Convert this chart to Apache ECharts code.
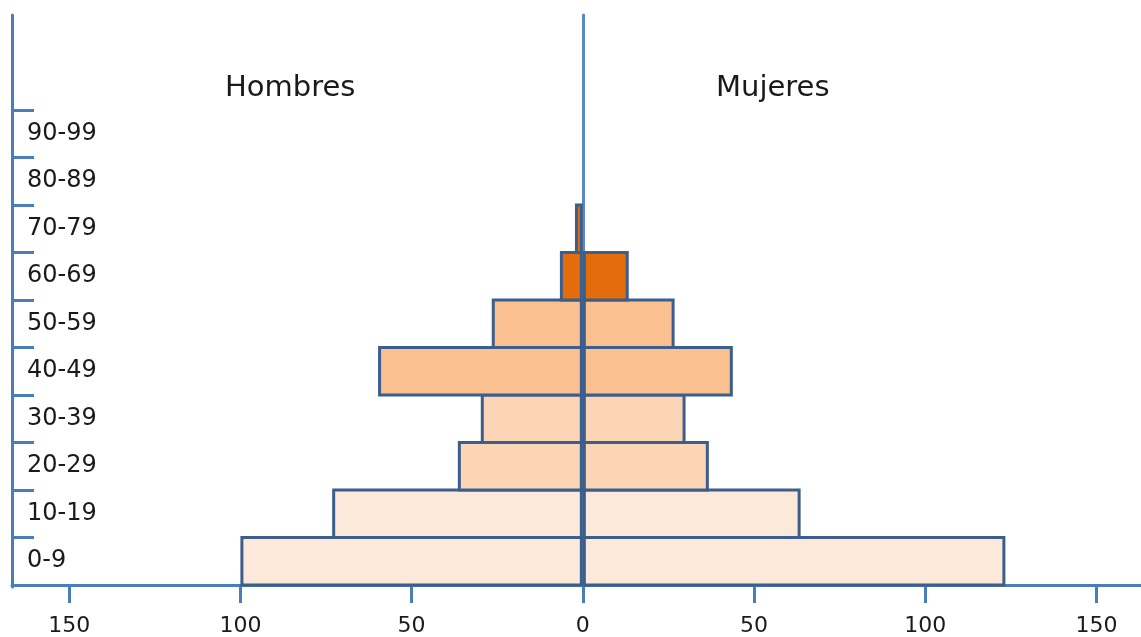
<!DOCTYPE html>
<html>
<head>
<meta charset="utf-8">
<script src="https://cdn.jsdelivr.net/npm/echarts@6/dist/echarts.min.js"></script>
<style>
  html, body { margin: 0; padding: 0; background: #fff; }
  #chart { width: 1141px; height: 637px; }
</style>
</head>
<body>
<div id="chart"></div>
<script>
// grupos de edad, de abajo arriba
var categorias = ['0-9', '10-19', '20-29', '30-39', '40-49', '50-59', '60-69', '70-79', '80-89', '90-99'];
var hombres = [100, 73.2, 36.5, 29.8, 59.8, 26.6, 6.7, 2.3, 0, 0];
var mujeres = [123.4, 63.6, 36.8, 30, 43.8, 26.8, 13.4, 0, 0, 0];
var ticksX = [-150, -100, -50, 0, 50, 100, 150];

var rellenos = ['#FDE9D9', '#FDE9D9', '#FBD5B5', '#FBD5B5', '#FAC090', '#FAC090', '#E46C0A', '#E46C0A', '#FFFFFF', '#FFFFFF'];
var ejeColor = '#4A7EBB';
var bordeColor = '#3B5E8C';
var fuente = 'DejaVu Sans';

var chart = echarts.init(document.getElementById('chart'));

var estiloBarra = {
    color: function (p) { return rellenos[p.dataIndex]; },
    borderColor: bordeColor,
    borderWidth: 3
};

chart.setOption({
    animation: false,
    backgroundColor: '#fff',
    title: [
        { text: 'Hombres', left: 220, top: 69, textStyle: { fontFamily: fuente, fontSize: 29, fontWeight: 'normal', color: '#1a1a1a' } },
        { text: 'Mujeres', left: 711, top: 69, textStyle: { fontFamily: fuente, fontSize: 29, fontWeight: 'normal', color: '#1a1a1a' } }
    ],
    grid: [
        { left: 12, right: 0, top: 110, bottom: 50 },
        { left: 12, right: 0, top: 15, bottom: 50 }
    ],
    xAxis: [
        {
            type: 'value', gridIndex: 0, min: -166.7, max: 163,
            splitLine: { show: false },
            axisLine: { show: true, lineStyle: { color: ejeColor, width: 3 } },
            axisTick: { show: true, length: 18, lineStyle: { color: ejeColor, width: 3 }, customValues: ticksX },
            axisLabel: {
                customValues: ticksX, margin: 30,
                fontFamily: fuente, fontSize: 22, color: '#1a1a1a',
                formatter: function (v) { return Math.abs(v); }
            }
        },
        {
            type: 'value', gridIndex: 1, min: -166.7, max: 163, show: false
        }
    ],
    yAxis: [
        {
            type: 'category', gridIndex: 0, data: categorias,
            axisLine: { show: true, onZero: false, lineStyle: { color: ejeColor, width: 3 } },
            axisTick: { show: true, inside: true, length: 22, lineStyle: { color: ejeColor, width: 3 } },
            axisLabel: { inside: true, margin: 15, fontFamily: fuente, fontSize: 24, color: '#1a1a1a' }
        },
        {
            type: 'value', gridIndex: 1, position: 'left',
            splitLine: { show: false }, axisTick: { show: false }, axisLabel: { show: false },
            axisLine: { show: true, onZero: false, lineStyle: { color: ejeColor, width: 3 } }
        },
        {
            type: 'value', gridIndex: 1,
            splitLine: { show: false }, axisTick: { show: false }, axisLabel: { show: false },
            axisLine: { show: true, onZero: true, lineStyle: { color: '#5A8AC6', width: 3 } }
        }
    ],
    series: [
        {
            name: 'Hombres', type: 'bar', xAxisIndex: 0, yAxisIndex: 0, stack: 'total',
            barWidth: '106.3%', itemStyle: estiloBarra, z: 1,
            data: hombres.map(function (v) { return v === 0 ? '-' : -v; })
        },
        {
            name: 'Mujeres', type: 'bar', xAxisIndex: 0, yAxisIndex: 0, stack: 'total',
            barWidth: '106.3%', itemStyle: estiloBarra, z: 1,
            data: mujeres.map(function (v) { return v === 0 ? '-' : v; })
        }
    ]
});
</script>
</body>
</html>
